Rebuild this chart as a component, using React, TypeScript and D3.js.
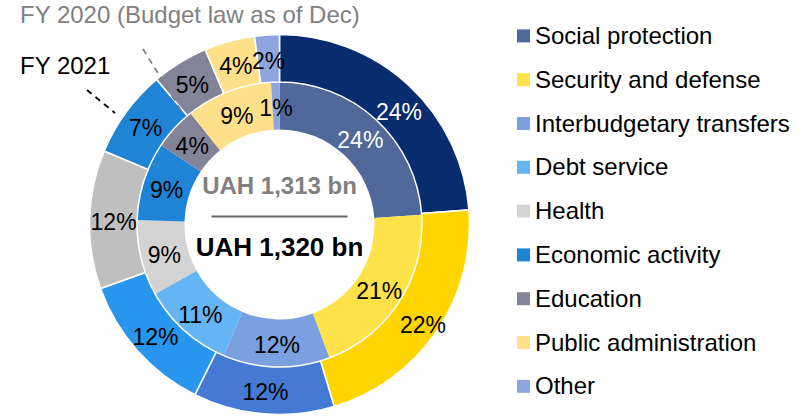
import React from "react";
import * as d3 from "d3";

const categories = [
  "Social protection",
  "Security and defense",
  "Interbudgetary transfers",
  "Debt service",
  "Health",
  "Economic activity",
  "Education",
  "Public administration",
  "Other",
];

// FY 2021 (outer ring)
const values2021 = [23.8, 21.6, 12.0, 12.2, 11.8, 7.5, 4.8, 4.3, 2.1];
const labels2021 = ["24%", "22%", "12%", "12%", "12%", "7%", "5%", "4%", "2%"];
// FY 2020 (inner ring)
const values2020 = [23.9, 20.4, 12.1, 10.5, 8.6, 8.9, 4.85, 9.8, 0.95];
const labels2020 = ["24%", "21%", "12%", "11%", "9%", "9%", "4%", "9%", "1%"];

const colors2021 = ["#082C6E", "#FFD500", "#4579D3", "#2896EE", "#BFBFBF", "#1F84D5", "#838497", "#FFE08A", "#8FA5DF"];
const colors2020 = ["#51699A", "#FFE14A", "#7AA0DF", "#65B4F4", "#D3D3D3", "#1F84D5", "#838497", "#FFE08A", "#8FA5DF"];
const textColors2021 = ["#fff", "#000", "#000", "#000", "#000", "#000", "#000", "#000", "#000"];
const textColors2020 = ["#fff", "#000", "#000", "#000", "#000", "#000", "#000", "#000", "#000"];

const total2020 = "UAH 1,313 bn";
const total2021 = "UAH 1,320 bn";
const title2020 = "FY 2020 (Budget law as of Dec)";
const title2021 = "FY 2021";

const FONT = "'Liberation Sans', Arial, Helvetica, sans-serif";

export default function App() {
  const W = 804, H = 416;
  const cx = 279.5, cy = 224.5;
  const rOuterOut = 190, rOuterIn = 142.5, rInnerIn = 95;

  const pie = d3.pie<number>().value((d) => d).sort(null);
  const outerArcs = pie(values2021);
  const innerArcs = pie(values2020);
  const outerArc = d3.arc<d3.PieArcDatum<number>>().innerRadius(rOuterIn).outerRadius(rOuterOut);
  const innerArc = d3.arc<d3.PieArcDatum<number>>().innerRadius(rInnerIn).outerRadius(rOuterIn);

  // label placement (manual nudges as in the reference)
  const outerLabelPos = (a: d3.PieArcDatum<number>, i: number): [number, number] => {
    let ang = (a.startAngle + a.endAngle) / 2;
    let r = 166;
    if (i === 0) { ang += (3.4 * Math.PI) / 180; r = 165.5; }
    if (i === 1) { r = 174; }
    return [r * Math.sin(ang), -r * Math.cos(ang)];
  };
  const innerLabelPos = (a: d3.PieArcDatum<number>): [number, number] => {
    const ang = (a.startAngle + a.endAngle) / 2;
    const r = 118.5;
    return [r * Math.sin(ang), -r * Math.cos(ang)];
  };

  const legendY = d3.scaleBand<string>().domain(categories).range([14, 14 + 43.8 * categories.length]);

  return (
    <svg width={W} height={H} style={{ position: "absolute", left: 0, top: 0, background: "#fff" }} fontFamily={FONT}>
      <g transform={`translate(${cx},${cy})`}>
        {innerArcs.map((a, i) => (
          <path key={"i" + i} d={innerArc(a) || ""} fill={colors2020[i]} />
        ))}
        {outerArcs.map((a, i) => (
          <path key={"o" + i} d={outerArc(a) || ""} fill={colors2021[i]} stroke="#fff" strokeWidth={1.5} />
        ))}
        {outerArcs.map((a, i) => {
          const [x, y] = outerLabelPos(a, i);
          return (
            <text key={"ol" + i} x={x} y={y + 2} textAnchor="middle" dominantBaseline="central" fontSize={23} fill={textColors2021[i]}>
              {labels2021[i]}
            </text>
          );
        })}
        {innerArcs.map((a, i) => {
          const [x, y] = innerLabelPos(a);
          return (
            <text key={"il" + i} x={x} y={y + 2} textAnchor="middle" dominantBaseline="central" fontSize={23} fill={textColors2020[i]}>
              {labels2020[i]}
            </text>
          );
        })}
        <text x={0} y={-31} textAnchor="middle" fontSize={24} fontWeight="bold" fill="#808080">{total2020}</text>
        <line x1={-68} x2={68} y1={-8} y2={-8} stroke="#666" strokeWidth={2} />
        <text x={0} y={31} textAnchor="middle" fontSize={26} fontWeight="bold" fill="#000">{total2021}</text>
      </g>

      <text x={20} y={23} fontSize={24} fill="#808080">{title2020}</text>
      <line x1={143} y1={49} x2={182} y2={112} stroke="#808080" strokeWidth={1.8} strokeDasharray="6,5" />
      <text x={20} y={74} fontSize={24} fill="#000">{title2021}</text>
      <line x1={87} y1={90} x2={115} y2={113} stroke="#000" strokeWidth={1.8} strokeDasharray="6,5" />

      {categories.map((c, i) => {
        const y = (legendY(c) || 0) + legendY.bandwidth() / 2;
        return (
          <g key={"lg" + i}>
            <rect x={517} y={y - 6.5} width={13} height={13} fill={colors2020[i]} />
            <text x={535} y={y + 8} fontSize={24} fill="#000">{c}</text>
          </g>
        );
      })}
    </svg>
  );
}
